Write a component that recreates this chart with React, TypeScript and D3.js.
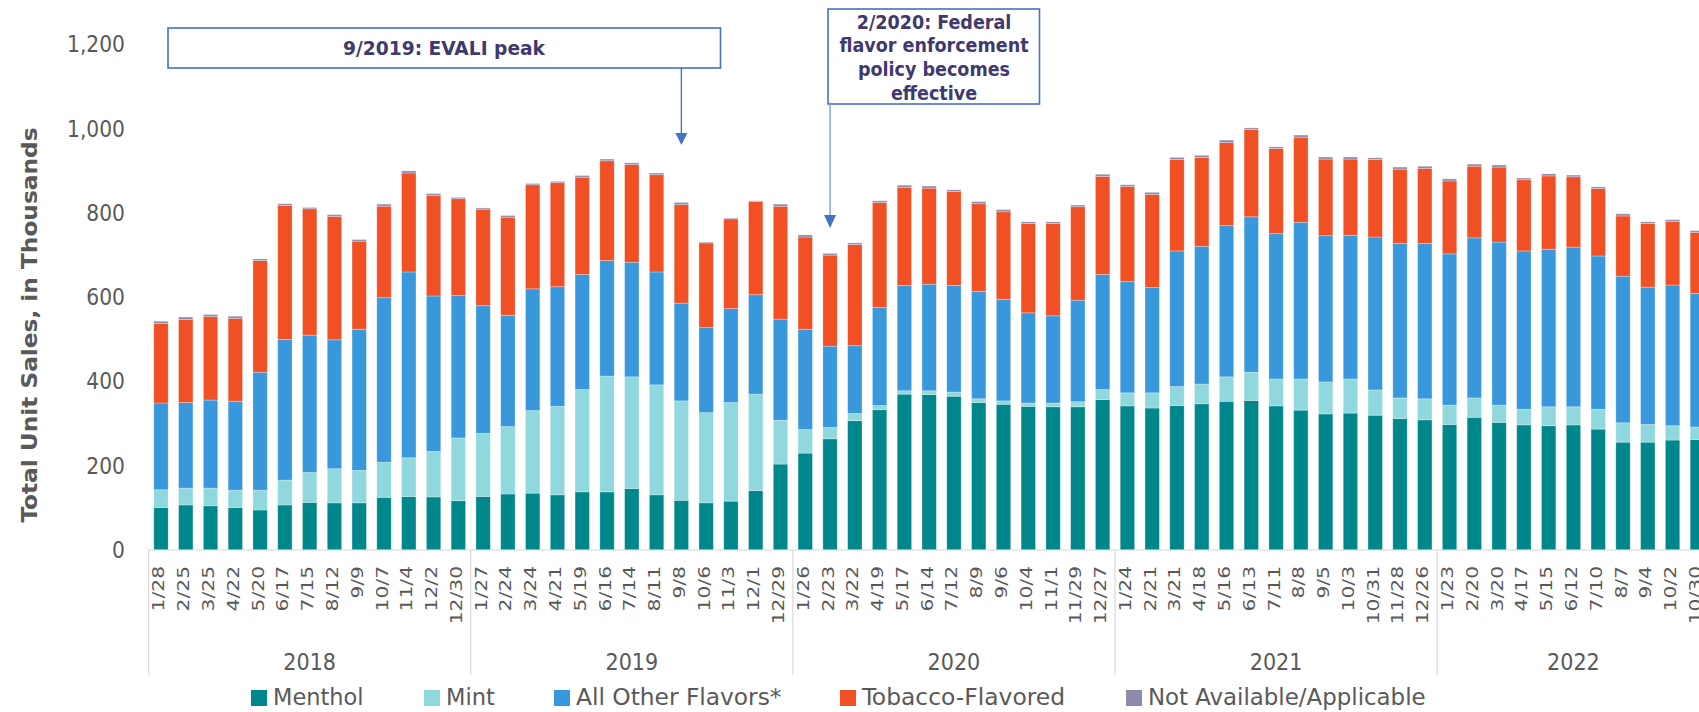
import React from "react";
import * as d3 from "d3";

const years = ["2018", "2019", "2020", "2021", "2022"];
const yearCounts = [13, 13, 13, 13, 11];
const categories = [
  "1/28", "2/25", "3/25", "4/22", "5/20", "6/17", "7/15", "8/12", "9/9", "10/7", "11/4", "12/2", "12/30",
  "1/27", "2/24", "3/24", "4/21", "5/19", "6/16", "7/14", "8/11", "9/8", "10/6", "11/3", "12/1", "12/29",
  "1/26", "2/23", "3/22", "4/19", "5/17", "6/14", "7/12", "8/9", "9/6", "10/4", "11/1", "11/29", "12/27",
  "1/24", "2/21", "3/21", "4/18", "5/16", "6/13", "7/11", "8/8", "9/5", "10/3", "10/31", "11/28", "12/26",
  "1/23", "2/20", "3/20", "4/17", "5/15", "6/12", "7/10", "8/7", "9/4", "10/2", "10/30",
];
const menthol = [
  101, 107, 105, 101, 95, 107, 113, 112, 112, 125, 127, 126, 117,
  127, 133, 135, 131, 138, 138, 146, 131, 118, 112, 116, 141, 204,
  230, 264, 307, 333, 370, 369, 365, 350, 346, 341, 340, 340, 357,
  342, 337, 343, 347, 353, 355, 342, 332, 323, 325, 320, 312, 309,
  298, 315, 303, 297, 295, 297, 287, 256, 256, 261, 262,
];
const mint = [
  42, 40, 42, 41, 47, 59, 71, 81, 77, 83, 92, 108, 149,
  150, 160, 196, 210, 243, 275, 265, 261, 236, 214, 234, 229, 104,
  56, 27, 17, 10, 8, 9, 10, 9, 8, 8, 9, 12, 24,
  31, 36, 45, 47, 58, 67, 64, 74, 76, 81, 60, 49, 50,
  46, 46, 41, 37, 45, 43, 47, 46, 42, 34, 30,
];
const otherFlavors = [
  206, 203, 209, 211, 280, 334, 326, 306, 335, 391, 441, 369, 338,
  303, 264, 289, 284, 273, 274, 272, 268, 232, 202, 223, 236, 240,
  238, 193, 161, 233, 250, 253, 253, 255, 241, 214, 207, 241, 273,
  264, 250, 322, 327, 359, 369, 345, 372, 347, 341, 363, 367, 369,
  359, 380, 387, 376, 374, 379, 364, 348, 326, 334, 317,
];
const tobacco = [
  189, 197, 198, 197, 265, 318, 300, 293, 209, 217, 235, 239, 230,
  229, 233, 247, 247, 231, 237, 232, 231, 234, 201, 213, 221, 268,
  219, 216, 240, 249, 233, 228, 223, 208, 208, 212, 219, 222, 233,
  226, 221, 217, 211, 197, 207, 202, 202, 182, 181, 184, 176, 178,
  173, 170, 178, 169, 174, 167, 160, 143, 151, 151, 145,
];
const notAvailable = [
  5, 6, 5, 5, 4, 4, 3, 4, 4, 5, 5, 4, 3,
  3, 4, 3, 3, 4, 4, 4, 4, 5, 2, 2, 2, 5,
  5, 4, 4, 4, 5, 5, 4, 5, 5, 4, 4, 4, 5,
  4, 5, 5, 5, 6, 4, 4, 5, 5, 5, 4, 5, 5,
  5, 5, 5, 4, 5, 4, 4, 5, 4, 4, 4,
];
const seriesKeys = ["menthol", "mint", "other", "tobacco", "na"];
const seriesNames = ["Menthol", "Mint", "All Other Flavors*", "Tobacco-Flavored", "Not Available/Applicable"];
const seriesColors = ["#00878C", "#8ED8DE", "#3898DB", "#F15025", "#8E8AAC"];
const yTicks = [0, 200, 400, 600, 800, 1000, 1200];
const annotation1 = ["9/2019: EVALI peak"];
const annotation2 = ["2/2020: Federal", "flavor enforcement", "policy becomes", "effective"];
const annotation1Index = 21; // 9/8/2019
const annotation2Index = 27; // 2/23/2020

const FONT = "'DejaVu Sans Condensed', 'DejaVu Sans', Tahoma, sans-serif";
const TXT = "#595959";
const NAVY = "#3F3A6E";
const BLUE = "#4472C4";

export default function App() {
  const W = 1699;
  const H = 712;
  const x0 = 148.6;
  const step = 24.78;
  const n = categories.length;
  const x = d3
    .scaleBand<number>()
    .domain(d3.range(n))
    .range([x0, x0 + n * step])
    .paddingInner(0.42)
    .paddingOuter(0.21);
  const y = d3.scaleLinear().domain([0, 1200]).range([550, 44.5]);

  const rows = categories.map((c, i) => ({
    i,
    menthol: menthol[i],
    mint: mint[i],
    other: otherFlavors[i],
    tobacco: tobacco[i],
    na: notAvailable[i],
  }));
  const stacked = d3.stack<any>().keys(seriesKeys)(rows);
  const fmt = d3.format(",");

  const bounds: number[] = [0];
  yearCounts.forEach((c) => bounds.push(bounds[bounds.length - 1] + c));
  const xEdge = (k: number) => x0 + k * step;

  const ax1 = (x(annotation1Index) as number) + x.bandwidth() / 2;
  const ax2 = (x(annotation2Index) as number) + x.bandwidth() / 2;

  const legendMarkerX = [251, 424, 554, 840, 1126];
  const legendTextLen = [90.5, 48.8, 205.5, 203, 277.6];

  return (
    <svg
      width={W}
      height={H}
      style={{ position: "absolute", left: 0, top: 0, background: "#fff" }}
      fontFamily={FONT}
    >
      {stacked.map((s, si) => (
        <g key={si} fill={seriesColors[si]}>
          {s.map((d, i) => (
            <rect
              key={i}
              x={x(i)}
              width={x.bandwidth()}
              y={y(d[1])}
              height={Math.max(0, y(d[0]) - y(d[1]))}
              stroke="#ffffff"
              strokeOpacity={0.35}
              strokeWidth={0.8}
            />
          ))}
        </g>
      ))}

      <line x1={x0} x2={x0 + n * step} y1={550} y2={550} stroke="#D9D9D9" strokeWidth={1.2} />
      {bounds.map((b, k) => (
        <line key={k} x1={xEdge(b)} x2={xEdge(b)} y1={550} y2={675} stroke="#D9D9D9" strokeWidth={1.2} />
      ))}

      {yTicks.map((t) => (
        <text key={t} x={125} y={y(t)} dy="0.35em" textAnchor="end" fontSize={22.5} fill={TXT}>
          {fmt(t)}
        </text>
      ))}

      <text
        transform={`translate(37,325) rotate(-90)`}
        textAnchor="middle"
        fontSize={22}
        fontWeight="bold"
        fill={TXT}
        textLength={395}
        lengthAdjust="spacingAndGlyphs"
      >
        Total Unit Sales, in Thousands
      </text>

      {categories.map((c, i) => {
        const cx = (x(i) as number) + x.bandwidth() / 2;
        return (
          <text
            key={i}
            transform={`translate(${cx + 3.5},566) rotate(-90) scale(1,0.7)`}
            textAnchor="end"
            fontSize={22.5}
            fill={TXT}
          >
            {c}
          </text>
        );
      })}

      {years.map((yr, k) => (
        <text
          key={yr}
          x={(xEdge(bounds[k]) + xEdge(bounds[k + 1])) / 2}
          y={670}
          textAnchor="middle"
          fontSize={23}
          fill={TXT}
        >
          {yr}
        </text>
      ))}

      {seriesNames.map((nm, k) => (
        <g key={nm}>
          <rect x={legendMarkerX[k]} y={690} width={16} height={16} fill={seriesColors[k]} />
          <text
            x={legendMarkerX[k] + 22}
            y={705}
            fontSize={23}
            fill={TXT}
            textLength={legendTextLen[k]}
            lengthAdjust="spacingAndGlyphs"
          >
            {nm}
          </text>
        </g>
      ))}

      <rect x={168} y={28} width={552.5} height={40} fill="#fff" stroke={BLUE} strokeWidth={1.6} />
      <text
        x={444}
        y={55}
        textAnchor="middle"
        fontSize={19.5}
        fontWeight="bold"
        fill={NAVY}
        textLength={202}
        lengthAdjust="spacingAndGlyphs"
      >
        {annotation1[0]}
      </text>
      <line x1={ax1} x2={ax1} y1={68} y2={134} stroke={BLUE} strokeWidth={1.4} />
      <path d={`M${ax1 - 6},133 L${ax1 + 6},133 L${ax1},145 Z`} fill={BLUE} />

      <rect x={828} y={9} width={211.5} height={95} fill="#fff" stroke={BLUE} strokeWidth={1.6} />
      {annotation2.map((ln, k) => (
        <text
          key={k}
          x={934}
          y={28.5 + k * 23.7}
          textAnchor="middle"
          fontSize={19.5}
          fontWeight="bold"
          fill={NAVY}
        >
          {ln}
        </text>
      ))}
      <line x1={ax2} x2={ax2} y1={104} y2={216} stroke="#7C9ED8" strokeWidth={1.4} />
      <path d={`M${ax2 - 6},215 L${ax2 + 6},215 L${ax2},228 Z`} fill={BLUE} />
    </svg>
  );
}
